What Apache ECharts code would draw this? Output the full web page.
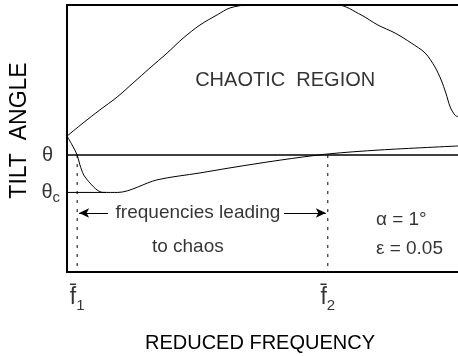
<!DOCTYPE html>
<html><head><meta charset="utf-8">
<script src="https://cdn.jsdelivr.net/npm/echarts@6/dist/echarts.min.js"></script>
<style>html,body{margin:0;padding:0;background:#fff}#c{width:458px;height:356px}</style>
</head><body><div id="c"></div>
<script>
// Reduced frequency (arbitrary units 0..10) and tilt angle (arbitrary units 0..10)
const upperX = [0, 0.41, 0.84, 1.28, 1.69, 2.12, 2.56, 2.97, 3.40, 3.84, 4.17, 4.63, 5.8, 6.93, 7.52, 7.95, 8.39, 8.80, 9.16, 9.41, 9.57, 9.69, 9.80, 9.92, 10];
const upperY = [5.09, 5.58, 6.07, 6.55, 7.08, 7.64, 8.20, 8.76, 9.25, 9.63, 9.89, 10, 10, 10, 9.63, 9.25, 8.95, 8.58, 8.20, 7.68, 7.19, 6.70, 6.18, 5.88, 5.81];
const lowerX = [0, 0.13, 0.26, 0.33, 0.43, 0.59, 0.77, 0.92, 1.30, 2.30, 3.40, 4.17, 5.45, 6.67, 8.0, 10];
const lowerY = [5.09, 4.76, 4.38, 4.01, 3.63, 3.33, 3.07, 2.98, 2.98, 3.45, 3.71, 3.90, 4.19, 4.42, 4.57, 4.72];
const theta = 4.38;
const thetaC = 2.98;
const f1 = 0.26;
const f2 = 6.67;
const yTickLabels = ['θ', 'θc'];
const xTickLabels = ['f1', 'f2'];
const xName = 'REDUCED FREQUENCY';
const yName = 'TILT  ANGLE';

const FF = "'Liberation Sans', Arial, sans-serif";
const zip = (a, b) => a.map((v, i) => [v, b[i]]);
const thin = { color: '#000', width: 1 };

const chart = echarts.init(document.getElementById('c'), null, { renderer: 'canvas' });
chart.setOption({
  animation: false,
  backgroundColor: '#fff',
  grid: { left: 67, top: 5, right: 0, bottom: 84, outerBoundsMode: 'none', containLabel: false },
  xAxis: [{
    type: 'value', min: 0, max: 10, position: 'bottom',
    axisLine: { lineStyle: { color: '#000', width: 2 } },
    axisTick: { show: false }, axisLabel: { show: false }, splitLine: { show: false },
    name: xName, nameLocation: 'middle', nameGap: 61,
    nameTextStyle: { fontFamily: FF, fontSize: 20, color: '#000', padding: [0, 5, 0, 0] }
  }, {
    type: 'value', min: 0, max: 10, position: 'top',
    axisLine: { lineStyle: { color: '#000', width: 2 } },
    axisTick: { show: false }, axisLabel: { show: false }, splitLine: { show: false }
  }],
  yAxis: {
    type: 'value', min: 0, max: 10,
    axisLine: { show: true, lineStyle: { color: '#000', width: 2 } },
    axisTick: { show: false }, axisLabel: { show: false }, splitLine: { show: false },
    name: yName, nameLocation: 'middle', nameGap: 36, nameRotate: 90,
    nameTextStyle: { fontFamily: FF, fontSize: 23, color: '#000', padding: [0, 0, 0, 16] }
  },
  series: [
    { type: 'line', data: zip(upperX, upperY), smooth: 0.3, symbol: 'none', lineStyle: thin },
    { type: 'line', data: zip(lowerX, lowerY), smooth: 0.3, symbol: 'none', lineStyle: thin },
    { type: 'line', data: [[0, theta], [10, theta]], symbol: 'none', lineStyle: { color: '#000', width: 1.5 } },
    { type: 'line', data: [[0, thetaC], [1.0, thetaC]], symbol: 'none', lineStyle: thin },
    { type: 'line', data: [[f1, theta], [f1, 0]], symbol: 'none', lineStyle: { color: '#000', width: 1, type: [3, 6] } },
    { type: 'line', data: [[f2, theta], [f2, 0]], symbol: 'none', lineStyle: { color: '#000', width: 1, type: [3, 6] } },
    { type: 'line', data: [], symbol: 'none',
      markLine: { silent: true, symbol: ['arrow', 'none'], symbolSize: [7, 10],
        lineStyle: { color: '#000', width: 1, type: 'solid' }, label: { show: false },
        data: [
          [{ coord: [f1 + 0.05, 2.21], symbol: 'arrow' }, { coord: [1.05, 2.21], symbol: 'none' }],
          [{ coord: [5.55, 2.21], symbol: 'none' }, { coord: [f2 - 0.05, 2.21], symbol: 'arrow' }]
        ] } },
    // tick labels on the y axis
    { type: 'scatter', symbolSize: 0, silent: true,
      data: [
        { value: [0, theta], label: { show: true, position: 'left', distance: 14, formatter: '{a|θ}',
          rich: { a: { fontFamily: FF, fontSize: 20, color: '#000' } } } },
        { value: [0, thetaC], label: { show: true, position: 'left', distance: 7, formatter: '{a|θ}{b|c}',
          rich: { a: { fontFamily: FF, fontSize: 20, color: '#000' }, b: { fontFamily: FF, fontSize: 15, color: '#000', padding: [10, 0, 0, 0] } } } }
      ] },
    // tick labels on the x axis
    { type: 'scatter', symbolSize: 0, silent: true,
      data: [f1, f2].map((v, i) => ({ value: [v, 0], label: { show: true, position: 'bottom', distance: 10,
        formatter: '{a|f\u0304}{b|' + xTickLabels[i].slice(1) + '}',
        rich: { a: { fontFamily: FF, fontSize: 23, color: '#000' }, b: { fontFamily: FF, fontSize: 15, color: '#000', padding: [16, 0, 0, 0] } } } })) },
    // annotations
    { type: 'scatter', symbolSize: 0, silent: true,
      label: { show: true, position: 'inside', color: '#000', fontFamily: FF },
      data: [
        { value: [5.58, 7.19], label: { formatter: 'CHAOTIC  REGION', fontSize: 20, color: '#000' } },
        { value: [3.35, 2.21], label: { formatter: 'frequencies leading', fontSize: 19, color: '#000' } },
        { value: [3.09, 0.93], label: { formatter: 'to chaos', fontSize: 19, color: '#000' } },
        { value: [7.9, 1.95], label: { formatter: 'α = 1°', fontSize: 19, align: 'left', color: '#000' } },
        { value: [7.9, 0.86], label: { formatter: 'ε = 0.05', fontSize: 19, align: 'left', color: '#000' } }
      ] }
  ]
});
</script></body></html>
